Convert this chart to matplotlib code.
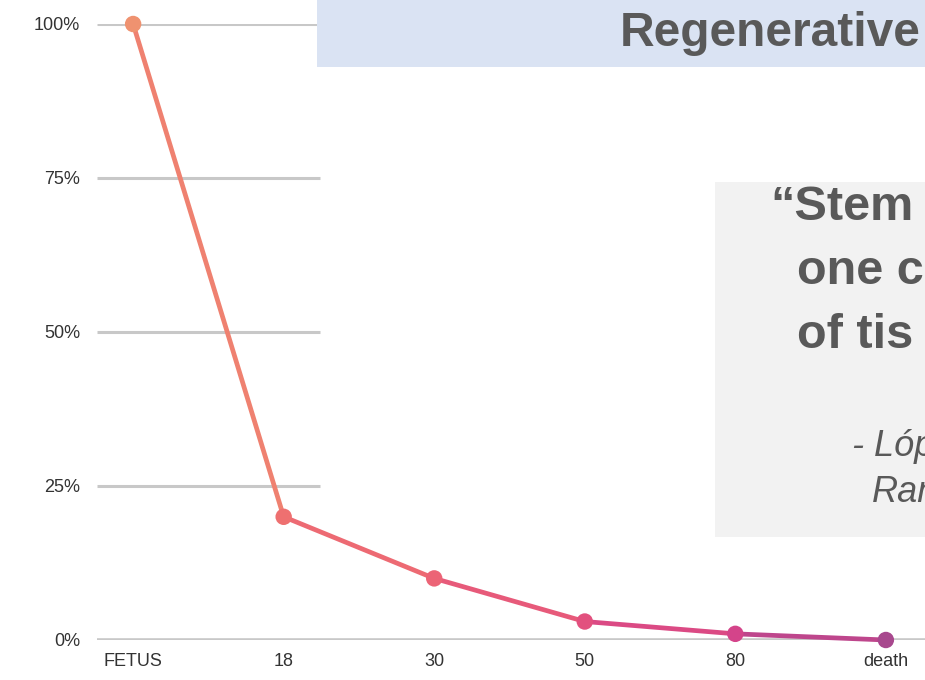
import matplotlib

matplotlib.use("Agg")
import matplotlib.pyplot as plt
from matplotlib.collections import LineCollection
from matplotlib.colors import to_rgb
from matplotlib.patches import Rectangle

# data
ages = ["FETUS", "18", "30", "50", "80", "death"]
stem_cell_share = [100, 20, 10, 3, 1, 0]
point_colors = ["#ef9270", "#ee7070", "#ec6476", "#e2507e", "#d4448a", "#a8488e"]
y_ticks = [0, 25, 50, 75, 100]

fig = plt.figure(figsize=(9.25, 6.8), dpi=100)
W, H = 925, 680
ax = fig.add_axes([97 / W, (H - 640) / H, 828 / W, 616 / H])
ax.set_xlim(-0.24, 5.26)
ax.set_ylim(0, 100)

x = list(range(len(ages)))

# gridlines: upper ones are only visible on the left part of the slide
grid_end = 1.24
for yv in y_ticks[1:]:
    ax.hlines(yv, -0.24, grid_end, color="#c8c8c8", linewidth=2.2, zorder=1)
ax.axhline(0, color="#c8c8c8", linewidth=2.6, zorder=1)

# line with colour shifting from orange to purple, one colour per segment
segments = [[(x[i], stem_cell_share[i]), (x[i + 1], stem_cell_share[i + 1])] for i in range(len(x) - 1)]
seg_colors = []
for i in range(len(x) - 1):
    a, b = to_rgb(point_colors[i]), to_rgb(point_colors[i + 1])
    seg_colors.append(tuple((p + q) / 2 for p, q in zip(a, b)))
lc = LineCollection(segments, colors=seg_colors, linewidths=3.4, zorder=2, clip_on=False,
                    capstyle="round", joinstyle="round")
ax.add_collection(lc)
ax.scatter(x, stem_cell_share, s=140, c=point_colors, zorder=3, clip_on=False, linewidths=0)

ax.set_xticks(x)
ax.set_xticklabels(ages)
ax.set_yticks(y_ticks)
ax.set_yticklabels([f"{v}%" for v in y_ticks])
ax.tick_params(axis="both", length=0, labelsize=13, labelcolor="#333333")
ax.tick_params(axis="y", pad=12)
ax.tick_params(axis="x", pad=9)
for lab in ax.get_xticklabels() + ax.get_yticklabels():
    lab.set_family(["Liberation Sans Narrow", "Liberation Sans", "DejaVu Sans"])
for spine in ax.spines.values():
    spine.set_visible(False)

# slide overlays
fig.patches.append(Rectangle((317 / W, (H - 67) / H), 1 - 317 / W, 67 / H,
                             transform=fig.transFigure, facecolor="#dae3f3", edgecolor="none", zorder=5))
fig.patches.append(Rectangle((715 / W, (H - 537) / H), 1 - 715 / W, (537 - 182) / H,
                             transform=fig.transFigure, facecolor="#f2f2f2", edgecolor="none", zorder=5))

sans = ["Liberation Sans", "DejaVu Sans"]
fig.text(921 / W, (H - 33) / H, "Regenerative", fontsize=34.5, fontweight="bold", color="#595959",
         family=sans, ha="right", va="center", zorder=6)

quote_lines = ["\u201cStem", "one c", "of tis"]
quote_x = [770, 797, 797]
quote_y = [207, 272, 335]
for txt, qx, qy in zip(quote_lines, quote_x, quote_y):
    fig.text(qx / W, (H - qy) / H, txt, fontsize=35, fontweight="bold", color="#595959",
             family=sans, ha="left", va="center", zorder=6)

fig.text(852 / W, (H - 447) / H, "- L\u00f3p", fontsize=26, fontstyle="italic", color="#595959",
         family=sans, ha="left", va="center", zorder=6)
fig.text(872 / W, (H - 492) / H, "Ran", fontsize=26, fontstyle="italic", color="#595959",
         family=sans, ha="left", va="center", zorder=6)

fig.savefig("out.png", dpi=100)
plt.close(fig)
